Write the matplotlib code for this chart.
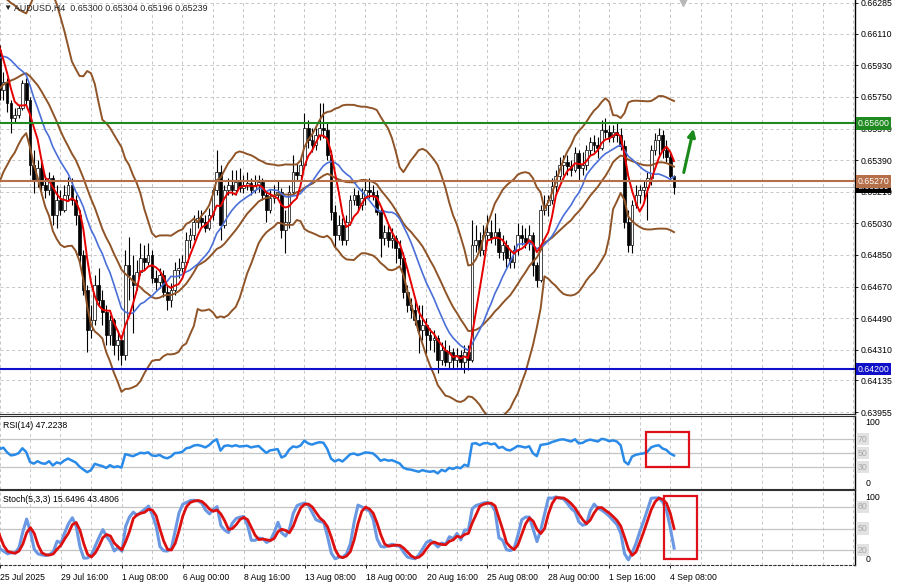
import numpy as np
import pandas as pd
import matplotlib
matplotlib.use("Agg")
import matplotlib.pyplot as plt
from matplotlib.patches import Rectangle

plt.rcParams['font.family'] = ['Liberation Sans', 'DejaVu Sans']

SCALE = 1e5  # prices are stored in 1e-5 units (points)

# ---- bars before the visible window (only used by the indicators) ----
pre_close = [65361, 65390, 65418, 65390, 65447, 65418, 65475, 65447, 65561, 65589, 65703,
             65789, 65846, 65931, 65988, 66045, 66017, 66131, 66188, 66102, 66074, 66017]
pre_high = [65418, 65447, 65475, 65458, 65504, 65487, 65544, 65515, 65629, 65675, 65789,
            65857, 65931, 65988, 66045, 66102, 66085, 66188, 66245, 66177, 66131, 66085]
pre_low = [65293, 65322, 65350, 65333, 65379, 65361, 65407, 65390, 65493, 65532, 65646,
           65732, 65778, 65874, 65931, 65977, 65960, 66063, 66120, 66045, 66006, 65949]

# ---- visible H4 bars, 25 Jul 2025 .. 4 Sep 2025 12:00 ----
open_ = [66017, 65789, 65835, 65715, 65629, 65646, 65686, 65829, 65732, 65361, 65276, 65344, 65247, 65219, 65287, 65076,
         65162, 65105, 65190, 65247, 65162, 65076, 64848, 64649, 64421, 64478, 64677, 64592, 64524, 64392, 64478, 64335,
         64364, 64278, 64791, 64734, 64677, 64752, 64831, 64809, 64848, 64717, 64695, 64734, 64638, 64592, 64649, 64763,
         64774, 64809, 64934, 64962, 65037, 65059, 65037, 65002, 65076, 65219, 65322, 65019, 65219, 65247, 65219, 65265,
         65230, 65247, 65259, 65219, 65247, 65265, 65190, 65105, 65173, 65190, 65208, 64991, 65037, 65208, 65322, 65304,
         65361, 65572, 65504, 65475, 65532, 65572, 65561, 65418, 65094, 64962, 65019, 64934, 65037, 65162, 65190, 65133,
         65173, 65219, 65208, 65190, 65094, 64945, 64980, 64934, 64945, 64888, 64831, 64638, 64563, 64535, 64478, 64421,
         64449, 64392, 64364, 64375, 64250, 64307, 64239, 64296, 64250, 64278, 64239, 64296, 64250, 64905, 64934, 64877,
         64962, 64980, 64945, 64980, 64866, 64905, 64831, 64809, 64877, 64962, 64945, 64923, 64962, 64791, 64706, 65105,
         65133, 65162, 65242, 65299, 65361, 65379, 65356, 65333, 65430, 65344, 65361, 65447, 65493, 65475, 65458, 65561,
         65550, 65521, 65550, 65532, 65470, 65037, 64905, 65133, 65190, 65219, 65236, 65287, 65447, 65504, 65532, 65447,
         65407, 65300]
high = [66045, 65892, 65857, 65732, 65686, 65703, 65846, 65857, 65749, 65447, 65390, 65379, 65304, 65322, 65304, 65247,
        65219, 65247, 65293, 65287, 65190, 65105, 64877, 64677, 64563, 64734, 64774, 64649, 64563, 64506, 64489, 64421,
        64392, 64877, 64951, 64848, 64820, 64917, 64905, 64917, 64877, 64763, 64774, 64763, 64677, 64689, 64809, 64831,
        64848, 64980, 65002, 65076, 65105, 65105, 65076, 65116, 65230, 65447, 65361, 65247, 65287, 65333, 65333, 65344,
        65304, 65322, 65287, 65304, 65304, 65287, 65208, 65219, 65247, 65276, 65230, 65105, 65247, 65418, 65373, 65418,
        65658, 65618, 65572, 65572, 65715, 65715, 65607, 65447, 65133, 65076, 65059, 65076, 65190, 65230, 65219, 65230,
        65276, 65287, 65247, 65219, 65116, 65019, 65019, 65002, 64962, 64934, 64866, 64677, 64603, 64592, 64563, 64563,
        64489, 64432, 64421, 64392, 64353, 64364, 64335, 64318, 64318, 64307, 64335, 64335, 65048, 65019, 64980, 65019,
        65076, 65048, 65088, 65002, 64962, 64934, 64877, 64905, 65031, 65019, 65002, 65019, 64980, 64809, 65133, 65190,
        65190, 65287, 65333, 65407, 65418, 65418, 65390, 65464, 65447, 65436, 65475, 65521, 65532, 65521, 65618, 65629,
        65589, 65589, 65607, 65572, 65504, 65105, 65162, 65247, 65247, 65276, 65322, 65475, 65544, 65572, 65561, 65504,
        65436, 65304]
low = [65732, 65732, 65664, 65544, 65607, 65629, 65675, 65703, 65304, 65202, 65236, 65208, 65173, 65190, 65019, 65002,
       65076, 65094, 65162, 65133, 65019, 64809, 64620, 64296, 64375, 64449, 64563, 64449, 64335, 64335, 64278, 64250,
       64221, 64250, 64592, 64404, 64649, 64734, 64763, 64791, 64689, 64649, 64660, 64609, 64535, 64552, 64620, 64717,
       64752, 64791, 64888, 64934, 65002, 65002, 64980, 64991, 65048, 65190, 64934, 65002, 65190, 65190, 65190, 65208,
       65202, 65219, 65190, 65202, 65208, 65162, 65037, 65088, 65145, 65162, 64945, 64860, 65002, 65190, 65276, 65287,
       65344, 65458, 65436, 65447, 65504, 65515, 65390, 65048, 64894, 64934, 64905, 64905, 65019, 65133, 65105, 65105,
       65133, 65173, 65162, 65076, 64837, 64905, 64894, 64888, 64803, 64791, 64603, 64524, 64489, 64449, 64290, 64364,
       64290, 64307, 64296, 64176, 64221, 64216, 64204, 64204, 64210, 64204, 64176, 64193, 64239, 64866, 64843, 64848,
       64917, 64917, 64905, 64831, 64820, 64780, 64774, 64774, 64848, 64905, 64888, 64877, 64729, 64666, 64695, 65076,
       65071, 65139, 65208, 65276, 65304, 65304, 65299, 65322, 65276, 65304, 65333, 65418, 65436, 65401, 65447, 65515,
       65493, 65493, 65493, 65447, 65002, 64866, 64860, 65116, 65145, 65162, 65048, 65247, 65418, 65418, 65401, 65379,
       65276, 65196]
close = [65789, 65835, 65715, 65629, 65646, 65686, 65829, 65732, 65361, 65276, 65344, 65247, 65219, 65287, 65076, 65162,
         65105, 65190, 65247, 65162, 65076, 64848, 64649, 64421, 64478, 64677, 64592, 64524, 64392, 64478, 64335, 64364,
         64278, 64791, 64734, 64677, 64752, 64831, 64809, 64848, 64717, 64695, 64734, 64638, 64592, 64649, 64763, 64774,
         64809, 64934, 64962, 65037, 65059, 65037, 65002, 65076, 65219, 65322, 65019, 65219, 65247, 65219, 65265, 65230,
         65247, 65259, 65219, 65247, 65265, 65190, 65105, 65173, 65190, 65208, 64991, 65037, 65208, 65322, 65304, 65361,
         65572, 65504, 65475, 65532, 65572, 65561, 65418, 65094, 64962, 65019, 64934, 65037, 65162, 65190, 65133, 65173,
         65219, 65208, 65190, 65094, 64945, 64980, 64934, 64945, 64888, 64831, 64638, 64563, 64535, 64478, 64421, 64449,
         64392, 64364, 64375, 64250, 64307, 64239, 64296, 64250, 64278, 64239, 64296, 64250, 64905, 64934, 64877, 64962,
         64980, 64945, 64980, 64866, 64905, 64831, 64809, 64877, 64962, 64945, 64923, 64962, 64791, 64706, 65105, 65133,
         65162, 65242, 65299, 65361, 65379, 65356, 65333, 65430, 65344, 65361, 65447, 65493, 65475, 65458, 65561, 65550,
         65521, 65550, 65532, 65470, 65037, 64905, 65133, 65190, 65219, 65236, 65287, 65447, 65504, 65532, 65447, 65407,
         65299, 65239]

date_labels = ["25 Jul 2025", "29 Jul 16:00", "1 Aug 08:00", "6 Aug 00:00", "8 Aug 16:00", "13 Aug 08:00",
               "18 Aug 00:00", "20 Aug 16:00", "25 Aug 08:00", "28 Aug 00:00", "1 Sep 16:00", "4 Sep 08:00"]
BARS_PER_LABEL = 16
BARS_PER_GRID = 8
price_ticks = [0.66285, 0.66110, 0.65930, 0.65750, 0.65570, 0.65390, 0.65210, 0.65030,
               0.64850, 0.64670, 0.64490, 0.64310, 0.64135, 0.63955]
level_resist = 0.65600
level_mid = 0.65270
level_support = 0.64200
rsi_levels = [70, 50, 30]
stoch_levels = [80, 50, 20]
rsi_title = "RSI(14) 47.2238"
stoch_title = "Stoch(5,3,3) 15.6496 43.4806"

# ---------------- indicators ----------------
n_pre = len(pre_close)
C = pd.Series(np.array(pre_close + close) / SCALE)
H = pd.Series(np.array(pre_high + high) / SCALE)
L = pd.Series(np.array(pre_low + low) / SCALE)
xi = np.arange(-n_pre, len(close))

ma_fast = C.rolling(5).mean()
ma_slow = C.rolling(13).mean()
bb_mid = C.rolling(20).mean()
bb_sd = C.rolling(20).std(ddof=0)
bb_up = bb_mid + 2 * bb_sd
bb_lo = bb_mid - 2 * bb_sd

d = C.diff().values
rsi = np.full(len(C), np.nan)
p = 14
g = np.where(d > 0, d, 0.0)
l_ = np.where(d < 0, -d, 0.0)
ag = g[1:p + 1].mean()
al = l_[1:p + 1].mean()
rsi[p] = 100 - 100 / (1 + ag / al)
for k in range(p + 1, len(C)):
    ag = (ag * (p - 1) + g[k]) / p
    al = (al * (p - 1) + l_[k]) / p
    rsi[k] = 100 - 100 / (1 + ag / al) if al > 0 else 100

hh = H.rolling(5).max()
ll = L.rolling(5).min()
stK = 100 * (C - ll).rolling(3).sum() / (hh - ll).rolling(3).sum()
stD = stK.rolling(3).mean()

# ---------------- figure ----------------
W, Hpx = 900, 587
fig = plt.figure(figsize=(W / 100, Hpx / 100), dpi=100)
fig.patch.set_facecolor('white')
right = 855 / W
ax = fig.add_axes([0, 1 - 414 / Hpx, right, 414 / Hpx])
ax_r = fig.add_axes([0, 1 - 489 / Hpx, right, 73 / Hpx])
ax_s = fig.add_axes([0, 1 - 565 / Hpx, right, 75 / Hpx])

xlim = (0.13, 224.5)
grid_kw = dict(color='#c6c6c6', lw=0.7, ls=(0, (3, 3)), zorder=0)
for a in (ax, ax_r, ax_s):
    a.set_xlim(*xlim)
    for gx in range(0, 232, BARS_PER_GRID):
        a.axvline(gx, **grid_kw)
    for s in ('left', 'top', 'bottom'):
        a.spines[s].set_visible(False)
    a.spines['right'].set_color('black')
    a.spines['right'].set_linewidth(1.0)
    a.yaxis.tick_right()
    a.tick_params(axis='x', bottom=False, labelbottom=False)

# main panel
ax.set_ylim(0.63944, 0.66302)
for pt in price_ticks:
    ax.axhline(pt, **grid_kw)
ax.set_yticks(price_ticks)
ax.set_yticklabels([f"{v:.5f}" for v in price_ticks])
ax.tick_params(axis='y', labelsize=6.3, length=2.5, pad=1.5, width=0.6, colors='black')
ax.spines['bottom'].set_visible(True)
ax.spines['bottom'].set_color('#303030')

o = np.array(open_) / SCALE
c = np.array(close) / SCALE
hi = np.array(high) / SCALE
lo = np.array(low) / SCALE
x = np.arange(len(c))
ax.vlines(x, lo, hi, color='black', lw=0.8, zorder=3)
bull = c >= o
body_h = np.abs(c - o)
body_h = np.where(body_h < 0.000015, 0.000015, body_h)
ax.bar(x, body_h, bottom=np.minimum(o, c), width=0.72,
       color=np.where(bull, 'white', 'black'), edgecolor='black', lw=0.5, zorder=3.5)

bb_col = '#8f5427'
ax.plot(xi, bb_up, color=bb_col, lw=1.4, zorder=4)
ax.plot(xi, bb_mid, color=bb_col, lw=1.4, zorder=4)
ax.plot(xi, bb_lo, color=bb_col, lw=1.4, zorder=4)
ax.plot(xi, ma_slow, color='#4a6fd8', lw=1.2, zorder=4.5)
ax.plot(xi, ma_fast, color='#e60000', lw=1.4, zorder=5)

ax.axhline(c[-1], color='#b4b4b4', lw=0.7, zorder=2)
ax.axhline(level_resist, color='#1f8a1f', lw=1.5, zorder=6)
ax.axhline(level_mid, color='#b5704a', lw=1.5, zorder=6)
ax.axhline(level_support, color='#1010c8', lw=1.5, zorder=6)


def tag(a, val, txt, fc, tc='white', fs=6.3, z=10):
    a.text(1.003, val, txt, transform=a.get_yaxis_transform(), ha='left', va='center',
           fontsize=fs, color=tc, zorder=z, clip_on=False,
           bbox=dict(boxstyle='square,pad=0.22', fc=fc, ec='none'))


tag(ax, c[-1], f"{c[-1]:.5f}", 'black', z=10)
tag(ax, level_mid, f"{level_mid:.5f}", '#b5704a', z=11)
tag(ax, level_resist, f"{level_resist:.5f}", '#1f8a1f', z=11)
tag(ax, level_support, f"{level_support:.5f}", '#1010c8', z=11)

# green arrow annotation
ax.annotate('', xy=(182.3, 0.65584), xytext=(179.4, 0.65304),
            arrowprops=dict(arrowstyle='-|>', color='#1a8a1a', lw=2.2, mutation_scale=11),
            zorder=7)
# chart-shift marker
ax.plot([0.799], [0.994], marker='v', color='#b8b8b8', ms=6, transform=ax.transAxes,
        clip_on=False, zorder=8)

fig.text(3 / W, 1 - 8 / Hpx, "\u25BC", fontsize=6, va='center', color='#222222')
fig.text(14 / W, 1 - 8 / Hpx,
         f"AUDUSD,H4  {o[-1]:.5f} {hi[-1]:.5f} {lo[-1]:.5f} {c[-1]:.5f}",
         fontsize=6.4, va='center', color='#222222')

# RSI panel
ax_r.set_ylim(-1.4, 102.9)
ax_r.set_yticks([])
ax_r.spines['top'].set_visible(True)
ax_r.spines['bottom'].set_visible(True)
ax_r.spines['top'].set_color('#303030')
ax_r.spines['bottom'].set_color('#303030')
for lv in rsi_levels:
    ax_r.axhline(lv, color='#c4c4c4', lw=0.9, zorder=1)
ax_r.plot(xi, rsi, color='#2a8ae8', lw=1.8, zorder=3)
ax_r.text(3 / W / right, 0.87, rsi_title, transform=ax_r.transAxes, fontsize=6.3, va='center')
ax_r.text(1.012, 100, "100", transform=ax_r.get_yaxis_transform(), fontsize=6.3, va='top', clip_on=False)
ax_r.text(1.012, 0, "0", transform=ax_r.get_yaxis_transform(), fontsize=6.3, va='bottom', clip_on=False)
for lv in rsi_levels:
    tag(ax_r, lv, f"{lv}", '#e2e2e2', tc='#a9a9a9')
ax_r.add_patch(Rectangle((169.7, 30), 11.2, 50, fill=False, ec='#e01018', lw=1.6, zorder=6))

# Stochastic panel
ax_s.set_ylim(-0.8, 103.6)
ax_s.set_yticks([])
ax_s.spines['top'].set_visible(True)
ax_s.spines['top'].set_color('#303030')
ax_s.spines['bottom'].set_visible(True)
ax_s.spines['bottom'].set_linestyle((0, (2, 2)))
ax_s.spines['bottom'].set_color('#303030')
for lv in stoch_levels:
    ax_s.axhline(lv, color='#c4c4c4', lw=0.9, zorder=1)
ax_s.plot(xi, stK, color='#6a98e2', lw=2.2, zorder=3)
ax_s.plot(xi, stD, color='#dd1010', lw=2.0, zorder=4)
ax_s.text(3 / W / right, 0.87, stoch_title, transform=ax_s.transAxes, fontsize=6.3, va='center')
ax_s.text(1.012, 100, "100", transform=ax_s.get_yaxis_transform(), fontsize=6.3, va='top', clip_on=False)
ax_s.text(1.012, 0, "0", transform=ax_s.get_yaxis_transform(), fontsize=6.3, va='bottom', clip_on=False)
for lv in stoch_levels:
    tag(ax_s, lv, f"{lv}", '#e2e2e2', tc='#a9a9a9')
ax_s.add_patch(Rectangle((174.4, 7.5), 8.7, 87.5, fill=False, ec='#e01018', lw=1.6, zorder=6))

tick_pos = list(range(0, BARS_PER_LABEL * len(date_labels), BARS_PER_LABEL))
ax_s.set_xticks(tick_pos)
ax_s.set_xticklabels(date_labels, ha='left', fontsize=6.2)
ax_s.tick_params(axis='x', bottom=True, labelbottom=True, length=2.5, width=0.6, pad=3)

fig.savefig('out.png', dpi=100)
